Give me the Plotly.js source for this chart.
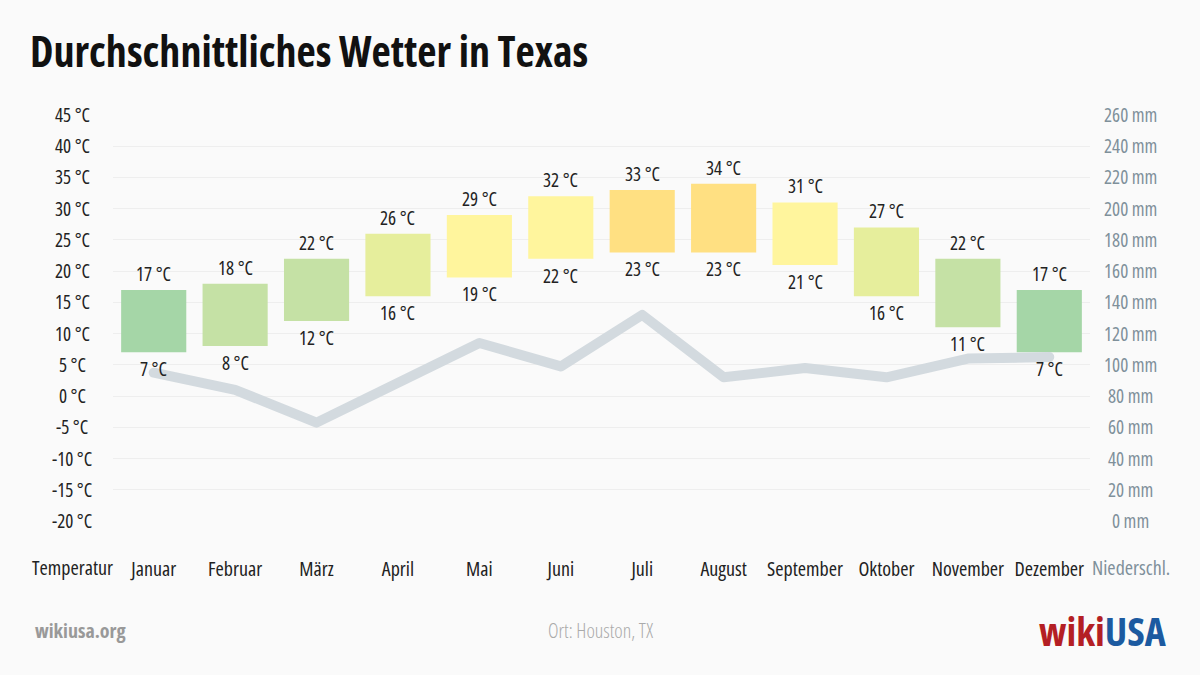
<!DOCTYPE html>
<html>
<head>
<meta charset="utf-8">
<script src="https://cdn.plot.ly/plotly-3.0.1.min.js"></script>
<style>
  html, body { margin: 0; padding: 0; background: #fafafa; }
  #chart { width: 1200px; height: 675px; }
  .scatterlayer .js-line { stroke-linecap: round; stroke-linejoin: round; }
  text, tspan { font-stretch: 75%; }
</style>
</head>
<body>
<div id="chart"></div>
<script>
const months = ["Januar","Februar","März","April","Mai","Juni","Juli","August","September","Oktober","November","Dezember"];
const tempMax = [17,18,22,26,29,32,33,34,31,27,22,17];
const tempMin = [7,8,12,16,19,22,23,23,21,16,11,7];
const precip = [95,84,63,88,114,99,132,92,98,92,104,105];
const barColors = ["#a5d6a7","#c5e1a5","#c5e1a5","#e6ee9c","#fff59d","#fff59d","#ffe082","#ffe082","#fff59d","#e6ee9c","#c5e1a5","#a5d6a7"];
const tempTicks = [45,40,35,30,25,20,15,10,5,0,-5,-10,-15,-20];
const precipTicks = [260,240,220,200,180,160,140,120,100,80,60,40,20,0];

const FONT = "'Open Sans', sans-serif";
const TXT = "#222222";
const BLUEGRAY = "#7f909a";
const F = (size, color, weight) => ({ family: FONT, size: size, color: color, weight: weight || 380 });

const L = 113, R = 110, PW = 1200 - L - R;
const px = v => (v - L) / PW;

const traces = [
  {
    type: "bar", x: months, base: tempMin,
    y: tempMax.map((v, i) => v - tempMin[i]),
    marker: { color: barColors }, width: 0.8,
    hoverinfo: "skip", showlegend: false
  },
  {
    type: "scatter", mode: "lines", x: months, y: precip, yaxis: "y2",
    line: { color: "#d3dadf", width: 10 }, hoverinfo: "skip", showlegend: false
  }
];

const annotations = [];
months.forEach((m, i) => {
  annotations.push({
    xref: "x", yref: "y", x: m, y: tempMax[i], text: tempMax[i] + " °C",
    showarrow: false, xanchor: "center", yanchor: "middle", yshift: 16,
    font: F(19, TXT)
  });
  annotations.push({
    xref: "x", yref: "y", x: m, y: tempMin[i], text: tempMin[i] + " °C",
    showarrow: false, xanchor: "center", yanchor: "middle", yshift: -17,
    font: F(19, TXT)
  });
});
tempTicks.forEach(v => annotations.push({
  xref: "paper", yref: "y", x: -0.5/12, y: v, text: v + " °C",
  showarrow: false, xanchor: "center", yanchor: "middle",
  font: F(19, TXT)
}));
precipTicks.forEach(v => annotations.push({
  xref: "paper", yref: "y2", x: 1 + 0.5/12, y: v, text: v + " mm",
  showarrow: false, xanchor: "center", yanchor: "middle",
  font: F(19, BLUEGRAY)
}));
annotations.push({
  xref: "paper", yref: "paper", x: -0.5/12, y: -0.115, text: "Temperatur",
  showarrow: false, xanchor: "center", yanchor: "middle",
  font: F(20, TXT)
});
annotations.push({
  xref: "paper", yref: "paper", x: 1 + 0.5/12, y: -0.115, text: "Niederschl.",
  showarrow: false, xanchor: "center", yanchor: "middle",
  font: F(20, BLUEGRAY)
});
annotations.push({
  xref: "paper", yref: "paper", x: px(80), y: -0.27, text: "wikiusa.org",
  showarrow: false, xanchor: "center", yanchor: "middle",
  font: F(20, "#999999", 700)
});
annotations.push({
  xref: "paper", yref: "paper", x: px(600), y: -0.27, text: "Ort: Houston, TX",
  showarrow: false, xanchor: "center", yanchor: "middle",
  font: F(20, "#aaaaaa", 300)
});
annotations.push({
  xref: "paper", yref: "paper", x: px(1103), y: -0.27,
  text: "<span style='color:#b41f24'>wiki</span><span style='color:#1c5aa0'>USA</span>",
  showarrow: false, xanchor: "center", yanchor: "middle",
  font: F(40, "#1c5aa0", 700)
});

const layout = {
  width: 1200, height: 675,
  paper_bgcolor: "#fafafa", plot_bgcolor: "#fafafa",
  margin: { l: L, r: R, t: 115, b: 154 },
  title: {
    text: "Durchschnittliches Wetter in Texas",
    x: 30/1200, xanchor: "left", y: 1 - 52/675, yanchor: "middle",
    font: { family: FONT, size: 42, color: "#111111", weight: 700 }
  },
  xaxis: {
    type: "category", range: [-0.5, 11.5], showgrid: false, zeroline: false,
    showline: false, ticks: "", ticklabelstandoff: 34, tickangle: 0,
    tickfont: F(20, TXT), fixedrange: true
  },
  yaxis: {
    range: [-20, 45], tickvals: tempTicks, showticklabels: false,
    showgrid: true, gridcolor: "#eeeeee", gridwidth: 1, zeroline: false, fixedrange: true
  },
  yaxis2: {
    range: [0, 260], overlaying: "y", side: "right", tickvals: precipTicks,
    showticklabels: false, showgrid: false, zeroline: false, fixedrange: true
  },
  annotations: annotations,
  bargap: 0.2,
  showlegend: false
};

Plotly.newPlot("chart", traces, layout, { staticPlot: true, displayModeBar: false });
</script>
</body>
</html>
